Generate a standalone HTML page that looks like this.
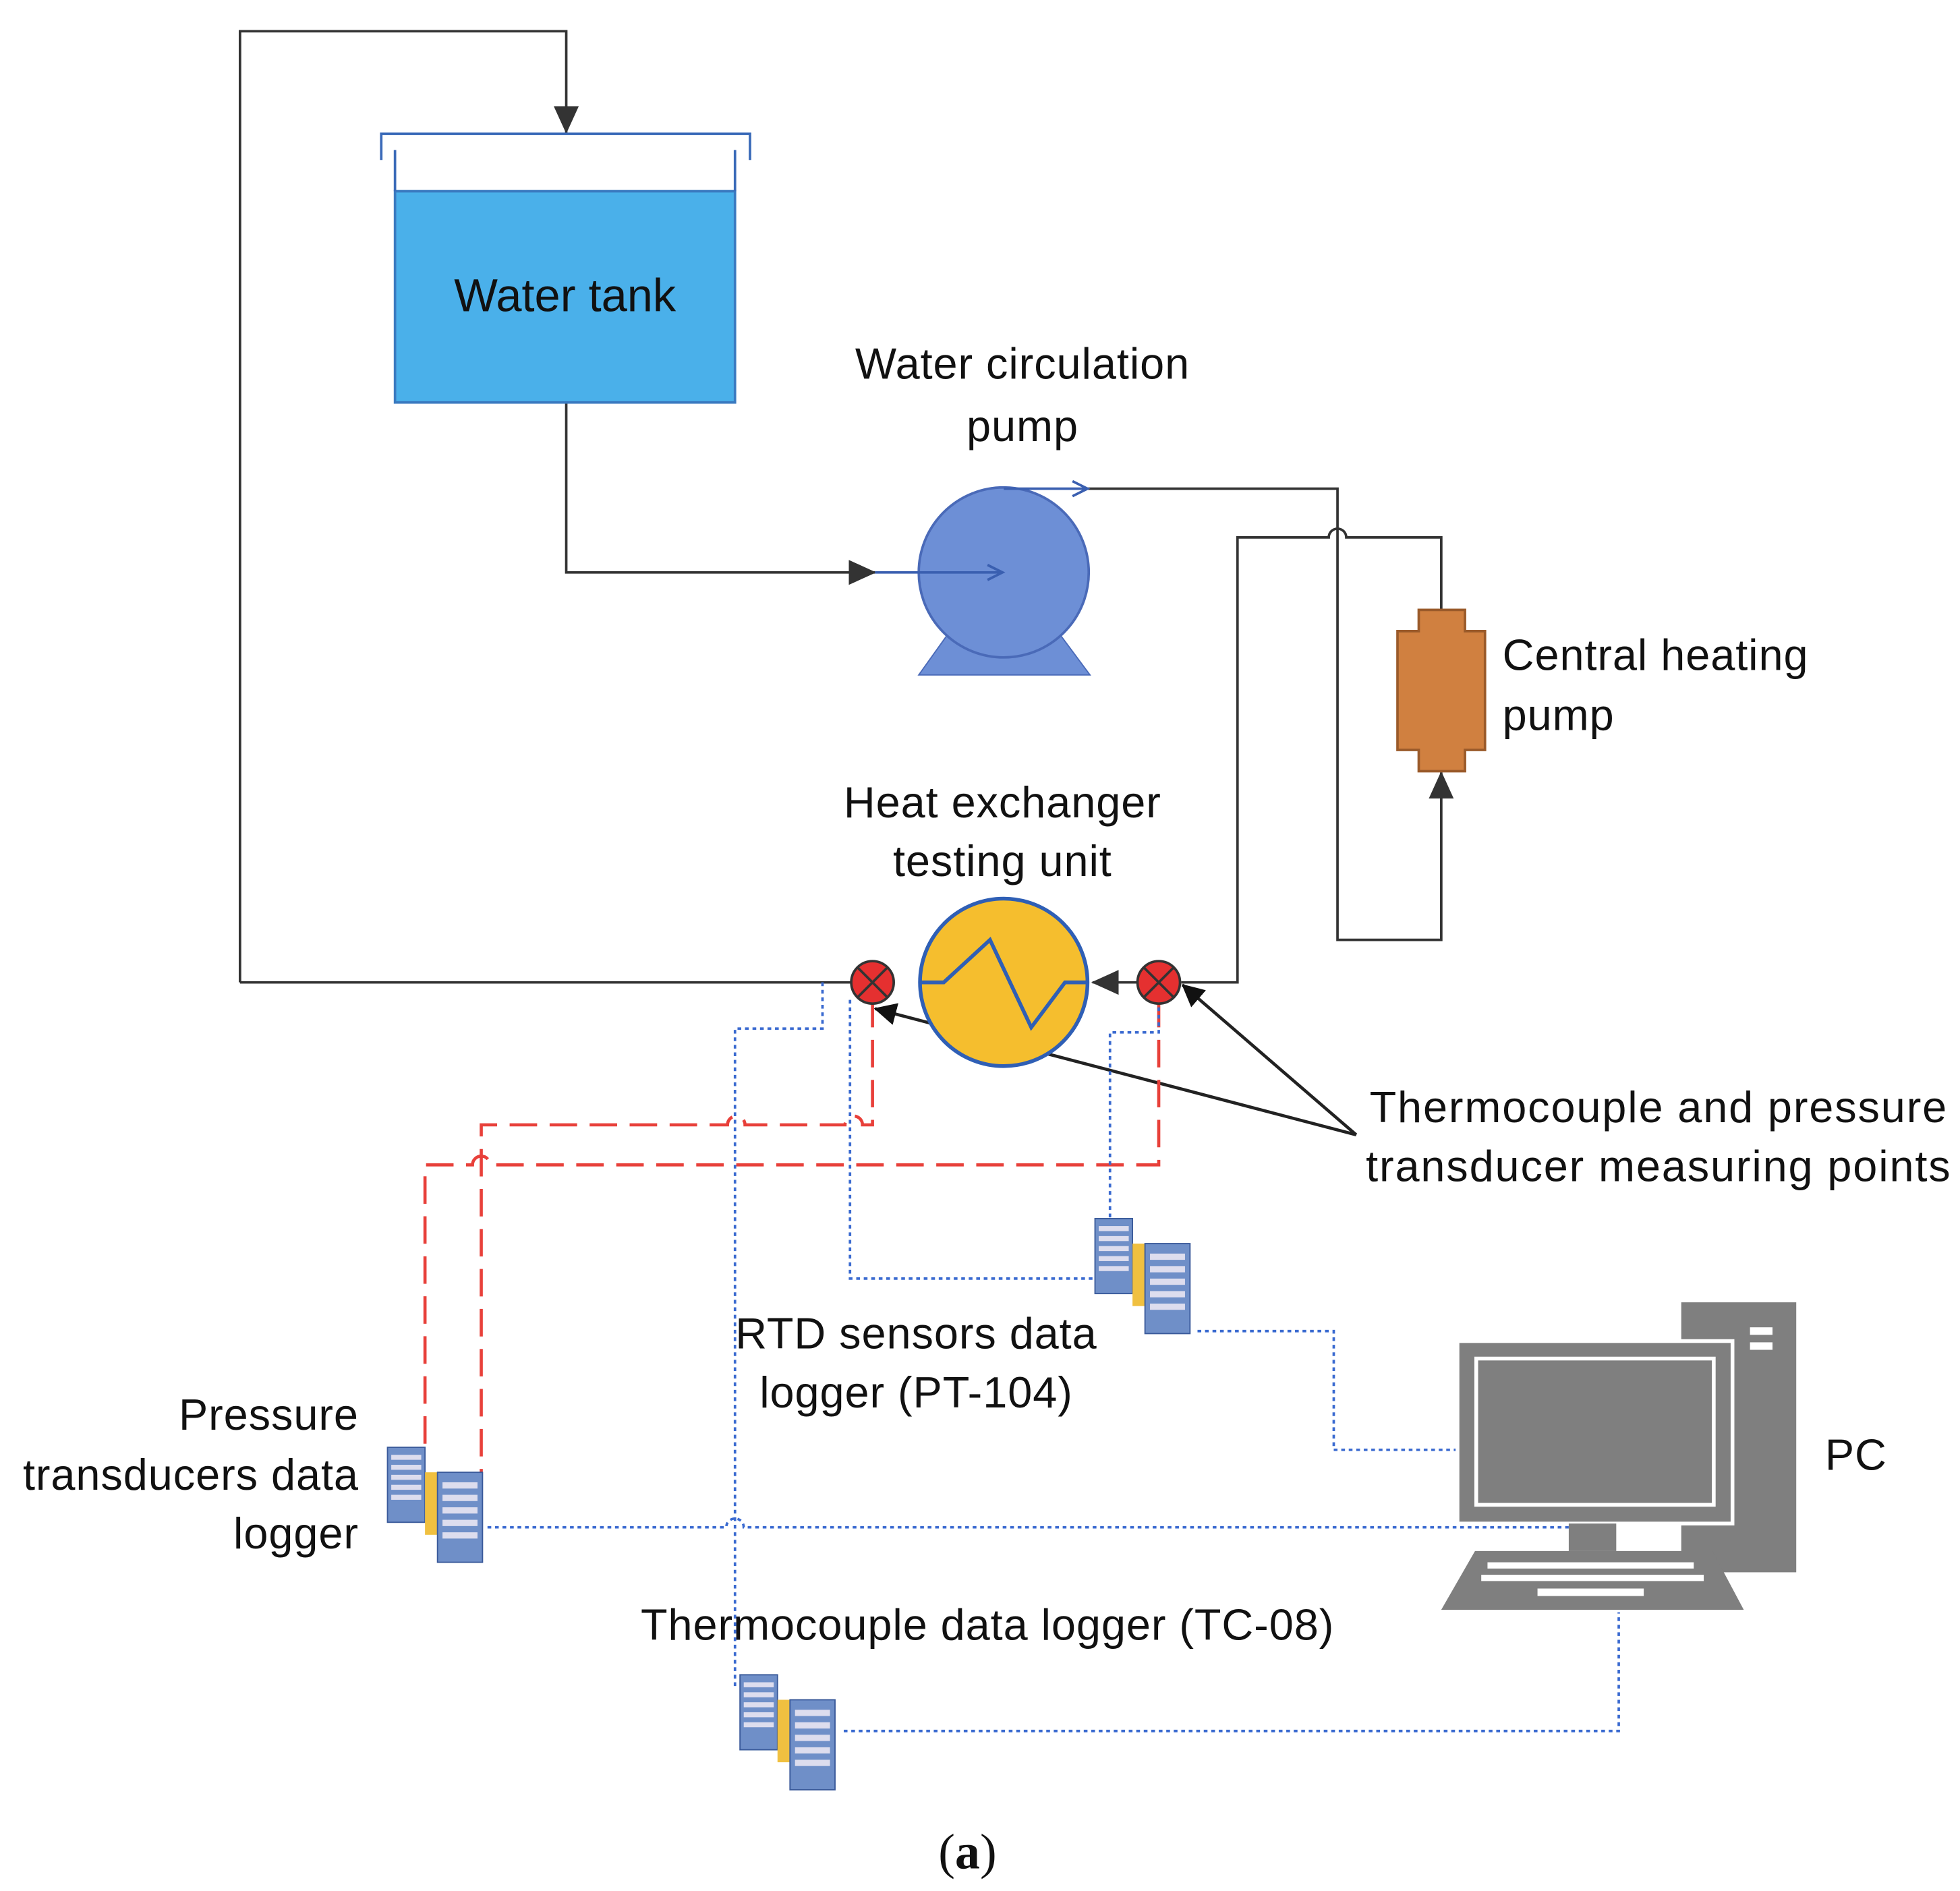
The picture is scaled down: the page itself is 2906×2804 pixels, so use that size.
<!DOCTYPE html>
<html><head><meta charset="utf-8"><style>html,body{margin:0;padding:0;background:#fff}svg{display:block}</style></head><body>
<svg width="2906" height="2804" viewBox="0 0 1568 1513" preserveAspectRatio="none" xmlns="http://www.w3.org/2000/svg" font-family="Liberation Sans, sans-serif">
<defs>
<marker id="ab" markerWidth="22" markerHeight="20" refX="21" refY="10" orient="auto" markerUnits="userSpaceOnUse"><path d="M0,0 L22,10 L0,20z" fill="#333"/></marker>
<marker id="ab2" markerWidth="18" markerHeight="18" refX="17" refY="9" orient="auto" markerUnits="userSpaceOnUse"><path d="M0,0 L18,9 L0,18z" fill="#111"/></marker>
<g id="srv">
<rect x="0" y="0" width="30" height="60" fill="#6f8fc8" stroke="#3a5a9a"/>
<rect x="3" y="6" width="24" height="4" fill="#dde"/><rect x="3" y="14" width="24" height="4" fill="#dde"/><rect x="3" y="22" width="24" height="4" fill="#dde"/><rect x="3" y="30" width="24" height="4" fill="#dde"/><rect x="3" y="38" width="24" height="4" fill="#dde"/>
<rect x="30" y="20" width="10" height="50" fill="#f0c040"/>
<rect x="40" y="20" width="36" height="72" fill="#6f8fc8" stroke="#3a5a9a"/>
<rect x="44" y="28" width="28" height="5" fill="#dde"/><rect x="44" y="38" width="28" height="5" fill="#dde"/><rect x="44" y="48" width="28" height="5" fill="#dde"/><rect x="44" y="58" width="28" height="5" fill="#dde"/><rect x="44" y="68" width="28" height="5" fill="#dde"/>
</g>
</defs>
<g fill="none" stroke="#333" stroke-width="2">
<path d="M192,786 V25 H453 V106" marker-end="url(#ab)"/>
<path d="M192,786 H682"/>
<path d="M453,322 V458 H700" marker-end="url(#ab)"/>
<path d="M870,391 H1070 V752 H1153 V618" marker-end="url(#ab)"/>
<path d="M1153,488 V430 H1077 A7,7 0 0 0 1063,430 H990 V786 H945"/>
<path d="M910,786 H874" marker-end="url(#ab)"/>
<path d="M1085,908 L946,788" marker-end="url(#ab2)" stroke="#222" stroke-width="2.5"/>
<path d="M1085,908 L700,807" marker-end="url(#ab2)" stroke="#222" stroke-width="2.5"/>
</g>
<rect x="316" y="153" width="272" height="169" fill="#4AB0EA" stroke="#3a7ac0" stroke-width="2"/>
<path d="M305,128 V107 H600 V128 M316,120 V153 M588,120 V153" fill="none" stroke="#3a6ab8" stroke-width="2"/>
<text x="452" y="249" font-size="37" text-anchor="middle" fill="#111">Water tank</text>
<path d="M735,540 L760,505 H846 L872,540 Z" fill="#6D8FD6" stroke="#4a6ab8"/>
<circle cx="803" cy="458" r="68" fill="#6D8FD6" stroke="#4a6ab8" stroke-width="2"/>
<path d="M700,458 H800 M790,452 L802,458 L790,464 M803,391 H868 M858,385 L870,391 L858,397" fill="none" stroke="#3a5fb0" stroke-width="2"/>
<g font-size="35" fill="#111" letter-spacing="0.5">
<text x="818" y="303" text-anchor="middle">Water circulation</text>
<text x="818" y="353" text-anchor="middle">pump</text>
<text x="1202" y="536">Central heating</text>
<text x="1202" y="584">pump</text>
<text x="802" y="654" text-anchor="middle">Heat exchanger</text>
<text x="802" y="701" text-anchor="middle">testing unit</text>
<text x="733" y="1079" text-anchor="middle">RTD sensors data</text>
<text x="733" y="1126" text-anchor="middle">logger (PT-104)</text>
<text x="287" y="1144" text-anchor="end">Pressure</text>
<text x="287" y="1192" text-anchor="end">transducers data</text>
<text x="287" y="1239" text-anchor="end">logger</text>
<text x="790" y="1312" text-anchor="middle">Thermocouple data logger (TC-08)</text>
<text x="1327" y="898" text-anchor="middle" letter-spacing="1">Thermocouple and pressure</text>
<text x="1327" y="945" text-anchor="middle" letter-spacing="1">transducer measuring points</text>
<text x="1460" y="1176">PC</text>
</g>
<path d="M1135,488 H1172 V505 H1188 V600 H1172 V617 H1135 V600 H1118 V505 H1135 Z" fill="#D08040" stroke="#9a5a2a" stroke-width="2"/>
<circle cx="803" cy="786" r="67" fill="#F5BE2E" stroke="#2f5fb5" stroke-width="3"/>
<path d="M736,786 H755 L792,752 L825,822 L852,786 H870" fill="none" stroke="#2f5fb5" stroke-width="3"/>
<g fill="none" stroke="#e8403a" stroke-width="2.5" stroke-dasharray="22,10">
<path d="M698,800 V900 H690 A7,7 0 0 0 676,900 H596 A7,7 0 0 0 582,900 H385 V1185"/>
<path d="M927,800 V932 H392 A7,7 0 0 0 378,932 H340 V1165"/>
</g>
<g fill="none" stroke="#3a6ad0" stroke-width="2" stroke-dasharray="3,3">
<path d="M658,786 V823 H588 V1350"/>
<path d="M680,800 V1023 H875"/>
<path d="M927,800 V826 H888 V975"/>
<path d="M958,1065 H1067 V1160 H1168"/>
<path d="M390,1222 H581 A7,7 0 0 1 595,1222 H1255"/>
<path d="M675,1385 H1295 V1290"/>
</g>
<g stroke="#333" stroke-width="2">
<circle cx="698" cy="786" r="17" fill="#E53030"/><path d="M686,774 L710,798 M710,774 L686,798"/>
<circle cx="927" cy="786" r="17" fill="#E53030"/><path d="M915,774 L939,798 M939,774 L915,798"/>
</g>
<use href="#srv" x="876" y="975"/>
<use href="#srv" x="310" y="1158"/>
<use href="#srv" x="592" y="1340"/>
<rect x="1345" y="1042" width="92" height="216" fill="#7F7F7F"/>
<rect x="1400" y="1062" width="18" height="6" fill="#fff"/><rect x="1400" y="1074" width="18" height="6" fill="#fff"/>
<rect x="1166" y="1073" width="220" height="146" fill="#7F7F7F" stroke="#fff" stroke-width="3"/>
<rect x="1181" y="1087" width="190" height="117" fill="#7F7F7F" stroke="#fff" stroke-width="3"/>
<rect x="1255" y="1219" width="38" height="22" fill="#7F7F7F"/>
<path d="M1180,1241 H1370 L1395,1288 H1153 Z" fill="#7F7F7F"/>
<g fill="#fff"><rect x="1190" y="1250" width="165" height="5"/><rect x="1185" y="1260" width="178" height="5"/><rect x="1230" y="1271" width="85" height="6"/></g>
<text x="774" y="1495" font-size="40" text-anchor="middle" font-family="Liberation Serif, serif" fill="#111">(<tspan font-weight="bold">a</tspan>)</text>
</svg>
</body></html>
